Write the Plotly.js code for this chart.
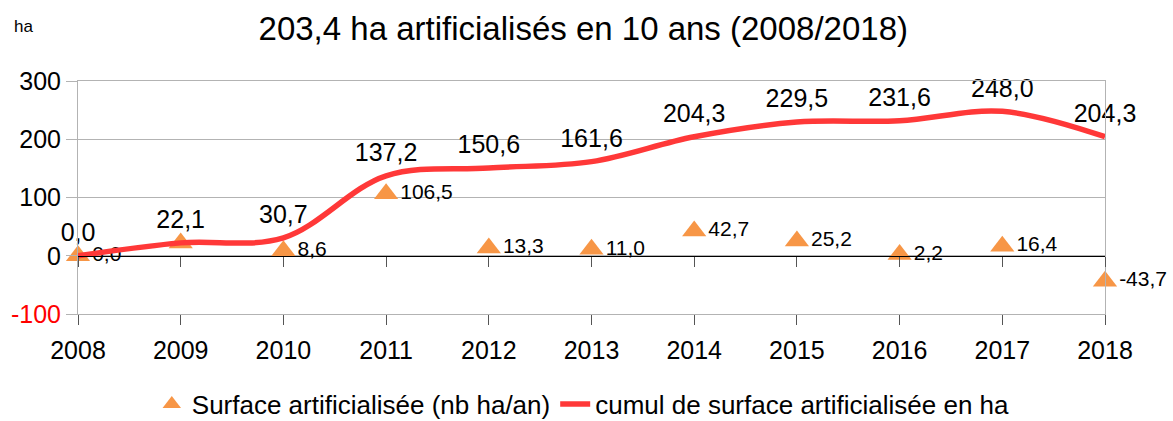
<!DOCTYPE html>
<html>
<head>
<meta charset="utf-8">
<script src="https://cdn.plot.ly/plotly-3.0.1.min.js"></script>
<style>html,body{margin:0;padding:0;background:#fff;}#chart{width:1173px;height:421px;}</style>
</head>
<body>
<div id="chart"></div>
<script>
const years = [2008, 2009, 2010, 2011, 2012, 2013, 2014, 2015, 2016, 2017, 2018];
const annualSurface = [0.0, 22.1, 8.6, 106.5, 13.3, 11.0, 42.7, 25.2, 2.2, 16.4, -43.7];
const cumulSurface = [0.0, 22.1, 30.7, 137.2, 150.6, 161.6, 204.3, 229.5, 231.6, 248.0, 204.3];
const annualLabelShown = [true, false, true, true, true, true, true, true, true, true, true];
const yTickVals = [-100, 0, 100, 200, 300];
const yTickText = ['<span style="color:#ff0000">-100</span>', '0', '100', '200', '300'];
const chartTitle = '203,4 ha artificialisés en 10 ans (2008/2018)';
const seriesNames = ['Surface artificialisée (nb ha/an)', 'cumul de surface artificialisée en ha'];

const fmt = v => v.toFixed(1).replace('.', ',');
const FONT = 'Liberation Sans, Arial, sans-serif';

const traces = [
  {
    x: years, y: annualSurface, name: seriesNames[0], type: 'scatter', mode: 'markers+text',
    marker: {symbol: 'triangle-up', size: 21, color: '#f79646'},
    text: annualSurface.map((v, i) => annualLabelShown[i] ? fmt(v) : ''),
    textposition: 'middle right',
    textfont: {family: FONT, size: 21, color: '#000'},
    cliponaxis: false, hoverinfo: 'skip'
  },
  {
    x: years, y: cumulSurface, name: seriesNames[1], type: 'scatter', mode: 'lines',
    line: {color: '#ff3838', width: 5.5, shape: 'spline', smoothing: 1},
    cliponaxis: false, hoverinfo: 'skip'
  },
  {
    x: years, y: cumulSurface, type: 'scatter', mode: 'markers+text', showlegend: false,
    marker: {size: 12, color: 'rgba(0,0,0,0)'},
    text: cumulSurface.map(fmt), textposition: 'top center',
    textfont: {family: FONT, size: 25, color: '#000'},
    cliponaxis: false, hoverinfo: 'skip'
  },
  {
    x: years, y: years.map(() => 0), type: 'scatter', mode: 'lines', showlegend: false,
    xaxis: 'x2', line: {color: 'rgba(0,0,0,0)', width: 0}, hoverinfo: 'skip'
  }
];

const layout = {
  width: 1173, height: 421,
  paper_bgcolor: '#fff', plot_bgcolor: '#fff',
  font: {family: FONT, color: '#000'},
  margin: {l: 78, r: 68, t: 81, b: 107, pad: 0, autoexpand: false},
  title: {text: chartTitle, font: {family: FONT, size: 33, color: '#000'},
          x: 0.492, xref: 'paper', xanchor: 'center', y: 0.933, yref: 'container', yanchor: 'middle'},
  xaxis: {
    range: [2008, 2018], tickvals: years, ticktext: years.map(String),
    showgrid: false, zeroline: false,
    showline: true, linecolor: '#b3b3b3', linewidth: 1, mirror: true,
    ticks: 'outside', ticklen: 10, tickcolor: '#555', tickwidth: 1,
    tickfont: {family: FONT, size: 25, color: '#000'}, ticklabelstandoff: 4
  },
  xaxis2: {
    range: [2008, 2018], overlaying: 'x', anchor: 'free', position: 0.25,
    tickvals: years, showticklabels: false, showgrid: false, zeroline: false,
    showline: true, linecolor: '#000', linewidth: 1,
    ticks: 'outside', ticklen: 10, tickcolor: '#555', tickwidth: 1
  },
  yaxis: {
    range: [-100, 300], tickvals: yTickVals, ticktext: yTickText,
    showgrid: true, gridcolor: '#b3b3b3', gridwidth: 1, zeroline: false,
    showline: true, linecolor: '#b3b3b3', linewidth: 1, mirror: true,
    ticks: 'outside', ticklen: 11, tickcolor: '#b3b3b3',
    tickfont: {family: FONT, size: 25, color: '#000'}
  },
  legend: {
    orientation: 'h', x: 0.492, xanchor: 'center', xref: 'paper',
    y: 1 - 404/421, yref: 'container', yanchor: 'middle',
    font: {family: FONT, size: 26, color: '#000'}, bgcolor: 'rgba(0,0,0,0)', itemwidth: 30
  },
  annotations: [
    {text: 'ha', xref: 'paper', yref: 'paper', x: -0.064, y: (314 - 27) / 233, xanchor: 'left', yanchor: 'middle',
     showarrow: false, font: {family: FONT, size: 17, color: '#000'}}
  ],
  showlegend: true
};

Plotly.newPlot('chart', traces, layout, {staticPlot: true, displayModeBar: false});
</script>
</body>
</html>
